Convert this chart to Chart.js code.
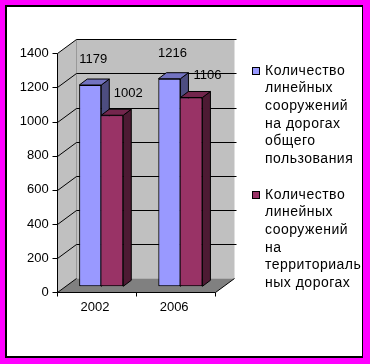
<!DOCTYPE html>
<html>
<head>
<meta charset="utf-8">
<script src="https://cdn.jsdelivr.net/npm/chart.js@4.4.0/dist/chart.umd.min.js"></script>
<style>
  html, body { margin: 0; padding: 0; background: #fff; }
  canvas { display: block; }
</style>
</head>
<body>
<canvas id="roadsChart" width="370" height="364"></canvas>
<script>
// data
const categories = ["2002", "2006"];
const commonRoads = [1179, 1216];
const territorialRoads = [1002, 1106];
const yTicks = [0, 200, 400, 600, 800, 1000, 1200, 1400];
const seriesNames = [
  "Количество линейных сооружений на дорогах общего пользования",
  "Количество линейных сооружений на территориальных дорогах"
];
const legendLines = [
  ["Количество", "линейных", "сооружений", "на дорогах", "общего", "пользования"],
  ["Количество", "линейных", "сооружений", "на", "территориаль", "ных дорогах"]
];

const FONT = "'Liberation Sans', Arial, sans-serif";
const FRONT = { x: -4.7, y: 6 };   // front plane relative to bar plane
const DEPTH = { x: 19, y: -14 };   // floor depth
const BAR_DEPTH = { x: 8, y: -6 };

const colors = [
  { front: "#9999FF", top: "#7373C0", side: "#4D4D80" },
  { front: "#993366", top: "#73264D", side: "#4D1A33" }
];

function poly(ctx, pts, fill, stroke) {
  ctx.beginPath();
  ctx.moveTo(pts[0][0], pts[0][1]);
  for (let i = 1; i < pts.length; i++) ctx.lineTo(pts[i][0], pts[i][1]);
  ctx.closePath();
  if (fill) { ctx.fillStyle = fill; ctx.fill(); }
  if (stroke) { ctx.strokeStyle = stroke; ctx.lineWidth = 1; ctx.stroke(); }
}

function line(ctx, x1, y1, x2, y2, color) {
  ctx.beginPath();
  ctx.moveTo(x1, y1);
  ctx.lineTo(x2, y2);
  ctx.strokeStyle = color;
  ctx.lineWidth = 1;
  ctx.stroke();
}

const crisp = (v) => Math.round(v) + 0.5;

const frame3d = {
  id: "frame3d",
  beforeDraw(chart) {
    const ctx = chart.ctx;
    ctx.save();
    ctx.fillStyle = "#FF00FF";
    ctx.fillRect(0, 0, chart.width, chart.height);
    ctx.fillStyle = "#000";
    ctx.fillRect(5, 5, 358, 353);
    ctx.fillStyle = "#fff";
    ctx.fillRect(7, 7, 355, 349);
    ctx.restore();
  },
  beforeDatasetsDraw(chart) {
    const ctx = chart.ctx;
    const a = chart.chartArea;
    const ys = chart.scales.y;
    const fx0 = crisp(a.left + FRONT.x);
    const fx1 = crisp(a.right + FRONT.x);
    const yAt = (v) => crisp(ys.getPixelForValue(v) + FRONT.y);
    const f0 = yAt(0);
    const fTop = yAt(yTicks[yTicks.length - 1]);
    const bx0 = fx0 + DEPTH.x, bx1 = fx1 + DEPTH.x;

    ctx.save();
    // back wall
    poly(ctx, [[bx0, fTop + DEPTH.y], [bx1, fTop + DEPTH.y], [bx1, f0 + DEPTH.y], [bx0, f0 + DEPTH.y]], "#C0C0C0");
    // left wall
    poly(ctx, [[fx0, fTop], [bx0, fTop + DEPTH.y], [bx0, f0 + DEPTH.y], [fx0, f0]], "#C0C0C0");
    // floor
    poly(ctx, [[fx0, f0], [fx1, f0], [bx1, f0 + DEPTH.y], [bx0, f0 + DEPTH.y]], "#808080");

    line(ctx, bx0, fTop + DEPTH.y, bx0, f0 + DEPTH.y, "#999");

    yTicks.forEach((v) => {
      const y = yAt(v);
      if (v > 0) line(ctx, bx0, y + DEPTH.y, bx1 + 2, y + DEPTH.y, "#000");
      line(ctx, fx0, y, bx0, y + DEPTH.y, "#000");
      line(ctx, fx0 - 5, y, fx0, y, "#000");
    });

    // axis line and floor edges
    line(ctx, fx0, fTop, fx0, f0, "#000");
    line(ctx, fx0, f0, fx1, f0, "#000");
    line(ctx, fx1, f0, bx1, f0 + DEPTH.y, "#000");

    // category ticks
    const step = (fx1 - fx0) / categories.length;
    for (let i = 0; i <= categories.length; i++) {
      const x = crisp(fx0 + step * i - 0.5);
      line(ctx, x, f0, x, f0 + 4, "#000");
    }
    ctx.restore();
  },
  afterDatasetsDraw(chart) {
    const ctx = chart.ctx;
    const metas = chart.data.datasets.map((d, i) => chart.getDatasetMeta(i));
    ctx.save();
    categories.forEach((c, i) => {
      metas.forEach((meta, d) => {
        const bar = meta.data[i];
        bar.draw(ctx);
        const l = bar.x - bar.width / 2, r = bar.x + bar.width / 2;
        const t = bar.y, b = bar.base;
        const dx = BAR_DEPTH.x, dy = BAR_DEPTH.y;
        poly(ctx, [[r, t], [r + dx, t + dy], [r + dx, b + dy], [r, b]], colors[d].side, "#000");
        poly(ctx, [[l, t], [l + dx, t + dy], [r + dx, t + dy], [r, t]], colors[d].top, "#000");
      });
    });

    // value labels
    const labelShift = [{ x: 3, y: -25.5 }, { x: 16, y: -22 }];
    ctx.font = "13px " + FONT;
    ctx.fillStyle = "#000";
    ctx.textAlign = "center";
    ctx.textBaseline = "middle";
    metas.forEach((meta, d) => {
      const values = chart.data.datasets[d].data;
      meta.data.forEach((bar, i) => {
        ctx.fillText(String(values[i]), bar.x + labelShift[d].x, bar.y + labelShift[d].y);
      });
    });
    ctx.restore();
  },
  afterDraw(chart) {
    const ctx = chart.ctx;
    ctx.save();
    ctx.font = "14px " + FONT;
    ctx.letterSpacing = "0.5px";
    ctx.textAlign = "left";
    ctx.textBaseline = "middle";
    const starts = [71, 195];
    const lh = 17.6;
    chart.data.datasets.forEach((ds, d) => {
      const y0 = starts[d];
      ctx.fillStyle = ds.backgroundColor;
      ctx.fillRect(252, y0 - 4, 8, 8);
      ctx.strokeStyle = "#000";
      ctx.lineWidth = 1;
      ctx.strokeRect(252.5, y0 - 3.5, 7, 7);
      ctx.fillStyle = "#000";
      legendLines[d].forEach((txt, k) => {
        ctx.fillText(txt, 265, y0 + k * lh);
      });
    });
    ctx.restore();
  }
};

const tickFont = { family: FONT, size: 13 };

new Chart(document.getElementById("roadsChart").getContext("2d"), {
  type: "bar",
  data: {
    labels: categories,
    datasets: [
      {
        label: seriesNames[0],
        data: commonRoads,
        backgroundColor: colors[0].front,
        borderColor: "#000",
        borderWidth: 1,
        borderSkipped: false,
        barPercentage: 1,
        categoryPercentage: 0.556
      },
      {
        label: seriesNames[1],
        data: territorialRoads,
        backgroundColor: colors[1].front,
        borderColor: "#000",
        borderWidth: { top: 1, right: 1, bottom: 1, left: 0 },
        borderSkipped: false,
        barPercentage: 1,
        categoryPercentage: 0.556
      }
    ]
  },
  options: {
    responsive: false,
    animation: false,
    layout: { padding: { left: 0, top: 47.3, right: 150, bottom: 0 } },
    plugins: {
      legend: { display: false },
      tooltip: { enabled: false }
    },
    scales: {
      x: {
        grid: { display: false, drawTicks: false },
        border: { display: false },
        ticks: { color: "#000", font: tickFont, labelOffset: -6.3, padding: 13 },
        afterFit: (scale) => { scale.height = 77.7; }
      },
      y: {
        min: 0,
        max: 1400,
        grid: { display: false, drawTicks: false },
        border: { display: false },
        ticks: {
          stepSize: 200,
          color: "#000",
          font: tickFont,
          labelOffset: 6,
          padding: 13,
          callback: (v) => String(v)
        },
        afterFit: (scale) => { scale.width = 61.7; }
      }
    }
  },
  plugins: [frame3d]
});
</script>
</body>
</html>
